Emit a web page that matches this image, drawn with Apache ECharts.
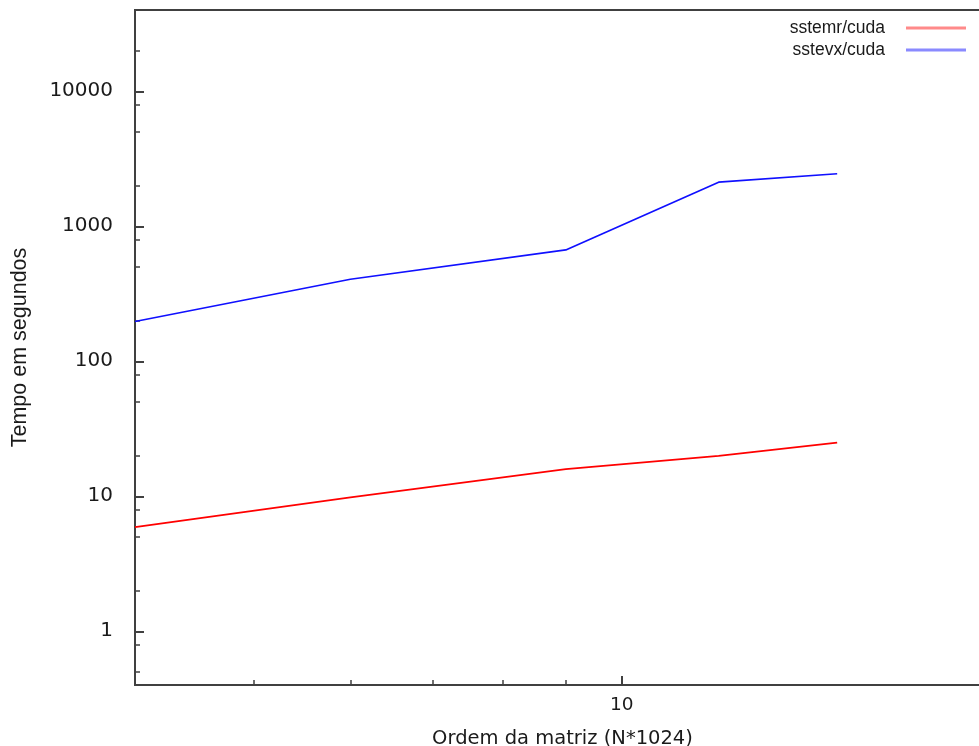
<!DOCTYPE html>
<html>
<head>
<meta charset="utf-8">
<script src="https://cdn.jsdelivr.net/npm/echarts@6/dist/echarts.min.js"></script>
<style>
html,body{margin:0;padding:0;background:#fff;}
#chart{width:979px;height:746px;}
</style>
</head>
<body>
<div id="chart"></div>
<script>
// matrix order (N*1024)
var xValues = [4, 6, 9, 12, 15];
var sstemrCuda = [5.9, 9.8, 15.9, 19.9, 25.0];
var sstevxCuda = [197, 405, 668, 2120, 2450];
var seriesNames = ['sstemr/cuda', 'sstevx/cuda'];

var xMajorTicks = [10];
var xMinorTicks = [5, 6, 7, 8, 9];
var yMajorTicks = [1, 10, 100, 1000, 10000];
var yMinorTicks = [0.5, 0.8, 2, 5, 8, 20, 50, 80, 200, 500, 800, 2000, 5000, 8000, 20000];

var xMin = 4, xMax = 20, yMin = 0.4, yMax = 40000;

function pairs(xs, ys) { return xs.map(function (x, i) { return [x, ys[i]]; }); }

var axisColor = '#404040';
var tickFont = 'DejaVu Sans';

var chart = echarts.init(document.getElementById('chart'), null, {renderer: 'canvas'});
chart.setOption({
  animation: false,
  backgroundColor: '#fff',
  grid: {
    left: 135, top: 10, right: -11, bottom: 61,
    show: true, borderColor: axisColor, borderWidth: 2,
    backgroundColor: 'transparent',
    containLabel: false, outerBoundsMode: 'none'
  },
  legend: {
    orient: 'vertical', right: 8, top: 14, align: 'right',
    itemWidth: 60, itemHeight: 3, itemGap: 4, icon: 'rect',
    textStyle: {fontFamily: 'Liberation Sans', fontSize: 17.5, color: '#1a1a1a', padding: [0, 16, 0, 0]},
    data: [
      {name: seriesNames[0], itemStyle: {color: '#ff8a8a'}},
      {name: seriesNames[1], itemStyle: {color: '#8a8aff'}}
    ]
  },
  xAxis: [{
    type: 'log', logBase: 10, min: xMin, max: xMax,
    name: 'Ordem da matriz (N*1024)', nameLocation: 'middle', nameGap: 44, nameMoveOverlap: false,
    nameTextStyle: {fontFamily: tickFont, fontSize: 19.5, color: '#1a1a1a'},
    axisLine: {show: true, lineStyle: {color: axisColor, width: 2}},
    axisTick: {show: true, inside: true, length: 9, customValues: xMajorTicks, lineStyle: {color: axisColor, width: 2}},
    axisLabel: {show: true, customValues: xMajorTicks, margin: 11, fontFamily: tickFont, fontSize: 18.5, color: '#1a1a1a',
      formatter: function (v) { return String(v); }},
    splitLine: {show: false}, minorTick: {show: false}
  }, {
    type: 'log', logBase: 10, min: xMin, max: xMax, position: 'bottom',
    axisLine: {show: false},
    axisTick: {show: true, inside: true, length: 5, customValues: xMinorTicks, lineStyle: {color: axisColor, width: 1.5}},
    axisLabel: {show: false}, splitLine: {show: false}
  }],
  yAxis: [{
    type: 'log', logBase: 10, min: yMin, max: yMax,
    name: 'Tempo em segundos', nameLocation: 'middle', nameGap: 104, nameRotate: 90, nameMoveOverlap: false,
    nameTextStyle: {fontFamily: 'Liberation Sans', fontSize: 21.5, color: '#1a1a1a'},
    axisLine: {show: true, lineStyle: {color: axisColor, width: 2}},
    axisTick: {show: true, inside: true, length: 9, customValues: yMajorTicks, lineStyle: {color: axisColor, width: 2}},
    axisLabel: {show: true, customValues: yMajorTicks, margin: 22, fontFamily: tickFont, fontSize: 20, color: '#1a1a1a',
      formatter: function (v) { return String(v); }},
    splitLine: {show: false}, minorTick: {show: false}
  }, {
    type: 'log', logBase: 10, min: yMin, max: yMax, position: 'left',
    axisLine: {show: false},
    axisTick: {show: true, inside: true, length: 5, customValues: yMinorTicks, lineStyle: {color: axisColor, width: 1.5}},
    axisLabel: {show: false}, splitLine: {show: false}
  }],
  series: [{
    name: seriesNames[0], type: 'line', xAxisIndex: 0, yAxisIndex: 0,
    data: pairs(xValues, sstemrCuda), showSymbol: false, symbol: 'none',
    lineStyle: {color: '#ff0000', width: 1.7}, itemStyle: {color: '#ff0000'}
  }, {
    name: seriesNames[1], type: 'line', xAxisIndex: 0, yAxisIndex: 0,
    data: pairs(xValues, sstevxCuda), showSymbol: false, symbol: 'none',
    lineStyle: {color: '#1010ff', width: 1.7}, itemStyle: {color: '#1010ff'}
  }]
});
</script>
</body>
</html>
